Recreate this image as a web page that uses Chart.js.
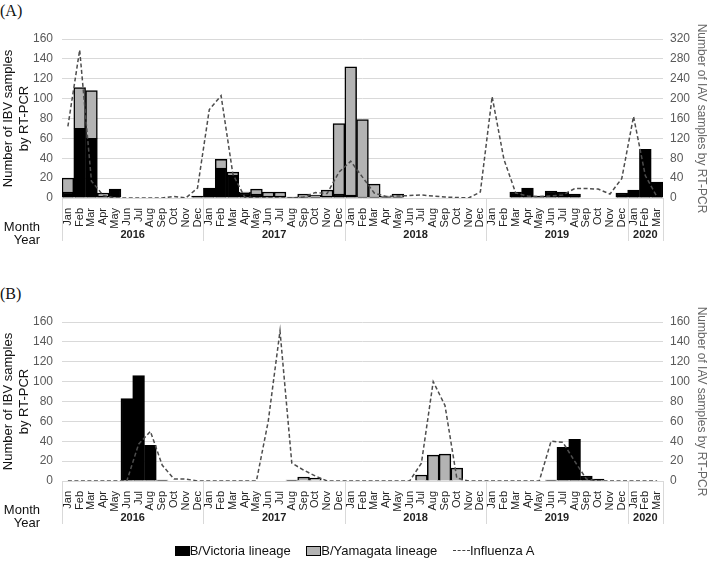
<!DOCTYPE html>
<html>
<head>
<meta charset="utf-8">
<script src="https://cdn.jsdelivr.net/npm/chart.js@4.4.0/dist/chart.umd.min.js"></script>
<style>
  body { margin: 0; background: #fff; width: 709px; height: 572px; position: relative; overflow: hidden;
         font-family: "Liberation Sans", Arial, sans-serif; color: #111; }
  .panel { position: absolute; left: 0; width: 709px; height: 262px; }
  .tag { position: absolute; left: 0; font-family: "Liberation Serif", "Times New Roman", serif; font-size: 16px; }
  #legend { position: absolute; top: 543px; left: 0; width: 709px; text-align: center; font-size: 13px; white-space: nowrap; }
  #legend span.item { display: inline-block; margin: 0 6px; }
  .sw { display: inline-block; width: 15px; height: 10px; vertical-align: -1px; box-sizing: border-box; }
  .dash { display: inline-block; width: 17px; border-top: 1.5px dashed #444; vertical-align: 4px; }
</style>
</head>
<body>
<div class="tag" style="top:2px">(A)</div>
<div class="tag" style="top:285px">(B)</div>
<div class="panel" style="top:0"><canvas id="chartA" width="709" height="262"></canvas></div>
<div class="panel" style="top:283px"><canvas id="chartB" width="709" height="262"></canvas></div>
<div id="legend">
  <span class="item"><span class="sw" style="background:#000"></span>B/Victoria lineage</span>
  <span class="item"><span class="sw" style="background:#b3b3b3;border:1.5px solid #000"></span>B/Yamagata lineage</span>
  <span class="item"><span class="dash"></span>Influenza A</span>
</div>
<script>
// months Jan 2016 .. Mar 2020
const monthNames = ['Jan','Feb','Mar','Apr','May','Jun','Jul','Aug','Sep','Oct','Nov','Dec'];
const months = [].concat(monthNames, monthNames, monthNames, monthNames, ['Jan','Feb','Mar']);
const yearNames = ['2016', '2017', '2018', '2019', '2020'];
const yearMonths = [12, 12, 12, 12, 3];

// panel A
const victoriaA = [6,70,60,2,9,0,0,0,0,0,0,2,
                   10,30,23,5,4,2,2,1,1,1,2,4,
                   3,1,1,1,1,0,0,0,0,0,0,0,
                   0,0,6,10,2,7,6,4,0,0,0,5,
                   8,49,16];
const yamagataA = [14,41,48,3,0,0,0,0,0,0,0,0,
                   0,9,3,1,5,4,4,0,3,2,6,71,
                   129,78,13,1,3,0,0,0,0,0,0,0,
                   0,0,0,0,0,0,0,0,0,0,0,0,
                   0,0,0];
const fluA_A = [144,298,34,5,0,0,0,0,0,3,0,20,
                178,206,48,2,0,0,0,0,2,11,9,52,
                74,42,10,3,4,5,6,4,2,1,0,12,
                204,78,10,4,3,4,6,19,19,18,8,39,
                164,45,2];

// panel B
const victoriaB = [0,0,0,0,0,83,106,36,1,0,0,0,
                   0,0,0,0,0,0,0,1,0,0,0,0,
                   0,0,0,0,0,0,0,0,0,0,0,0,
                   0,0,0,0,0,1,34,42,5,2,0,0,
                   0,0,0];
const yamagataB = [0,0,0,0,0,0,0,0,0,0,0,0,
                   0,0,0,0,0,0,0,0,4,3,0,0,
                   0,0,0,0,0,0,6,26,27,13,0,0,
                   0,0,0,0,0,0,0,0,0,0,0,0,
                   0,0,0];
const fluA_B = [0,0,0,0,0,0,37,50,16,2,2,0,
                0,0,0,0,0,60,151,18,11,5,0,0,
                0,0,0,0,0,0,18,100,76,3,0,0,
                0,0,0,0,0,40,39,20,2,0,0,0,
                0,0,0];

const gridGrey = '#d9d9d9';
const tickGrey = '#595959';

// draws the "Year" row under the month labels, plus Month / Year captions
const yearRow = {
    id: 'yearRow',
    afterDraw(chart) {
        const x = chart.scales.x;
        const ctx = chart.ctx;
        const bottom = chart.chartArea.bottom;
        const half = (x.getPixelForValue(1) - x.getPixelForValue(0)) / 2;
        ctx.save();
        ctx.strokeStyle = gridGrey;
        ctx.lineWidth = 1;
        ctx.fillStyle = '#222';
        ctx.font = 'bold 11px "Liberation Sans", Arial, sans-serif';
        ctx.textAlign = 'center';
        ctx.textBaseline = 'middle';
        let start = 0;
        yearNames.forEach((yr, i) => {
            const n = yearMonths[i];
            const l = x.getPixelForValue(start) - half;
            const r = x.getPixelForValue(start + n - 1) + half;
            ctx.beginPath();
            ctx.moveTo(Math.round(l) + 0.5, bottom);
            ctx.lineTo(Math.round(l) + 0.5, bottom + 43);
            ctx.stroke();
            if (i === yearNames.length - 1) {
                ctx.beginPath();
                ctx.moveTo(Math.round(r) + 0.5, bottom);
                ctx.lineTo(Math.round(r) + 0.5, bottom + 43);
                ctx.stroke();
            }
            ctx.fillText(yr, (l + r) / 2, bottom + 37);
            start += n;
        });
        // captions on the left
        ctx.font = '13px "Liberation Sans", Arial, sans-serif';
        ctx.textAlign = 'right';
        ctx.fillStyle = '#111';
        ctx.fillText('Month', 40, bottom + 29);
        ctx.fillText('Year', 40, bottom + 42);
        ctx.restore();
    }
};

function makePanel(id, vic, yam, flu, fluMax, fluStep) {
    return new Chart(document.getElementById(id), {
        type: 'bar',
        data: {
            labels: months,
            datasets: [
                {
                    type: 'line', label: 'Influenza A', data: flu, yAxisID: 'y1', order: 0,
                    borderColor: '#4d4d4d', borderWidth: 1.5, borderDash: [4, 2.5],
                    pointRadius: 0, tension: 0, fill: false
                },
                {
                    label: 'B/Victoria lineage', data: vic, yAxisID: 'y', order: 1,
                    backgroundColor: '#000', borderColor: '#000', borderWidth: 1.5,
                    barPercentage: 1, categoryPercentage: 1
                },
                {
                    label: 'B/Yamagata lineage', data: yam, yAxisID: 'y', order: 1,
                    backgroundColor: '#b3b3b3', borderColor: '#000', borderWidth: 1.5,
                    barPercentage: 1, categoryPercentage: 1
                }
            ]
        },
        options: {
            responsive: false,
            animation: false,
            layout: { padding: { top: 39, left: 0, right: 0, bottom: 0 } },
            plugins: { legend: { display: false }, tooltip: { enabled: false } },
            scales: {
                x: {
                    stacked: true,
                    grid: { display: false },
                    border: { display: false },
                    ticks: {
                        autoSkip: false, minRotation: 90, maxRotation: 90, padding: 2,
                        color: '#222', font: { family: '"Liberation Sans Narrow", "Liberation Sans", Arial', size: 11 }
                    },
                    afterFit: (s) => { s.height = 64; }
                },
                y: {
                    stacked: true, min: 0, max: 160,
                    ticks: { stepSize: 20, color: tickGrey, padding: 9, font: { size: 12, family: '"Liberation Sans", Arial' } },
                    grid: { color: gridGrey, drawTicks: false, lineWidth: 1 },
                    border: { display: false },
                    title: {
                        display: true, text: ['Number of IBV samples', 'by RT-PCR'], color: '#111',
                        padding: 0, font: { size: 13, family: '"Liberation Sans", Arial', lineHeight: 1.25 }
                    },
                    afterFit: (s) => { s.width = 62; }
                },
                y1: {
                    position: 'right', min: 0, max: fluMax,
                    ticks: { stepSize: fluStep, color: tickGrey, padding: 7, font: { size: 12, family: '"Liberation Sans", Arial' } },
                    grid: { display: false, drawTicks: false },
                    border: { display: false },
                    title: {
                        display: true, text: 'Number of IAV samples by RT-PCR', color: '#666',
                        padding: 0, font: { size: 12, family: '"Liberation Sans", Arial' }
                    },
                    afterFit: (s) => { s.width = 46; }
                }
            }
        },
        plugins: [yearRow]
    });
}

makePanel('chartA', victoriaA, yamagataA, fluA_A, 320, 40);
makePanel('chartB', victoriaB, yamagataB, fluA_B, 160, 20);
</script>
</body>
</html>
